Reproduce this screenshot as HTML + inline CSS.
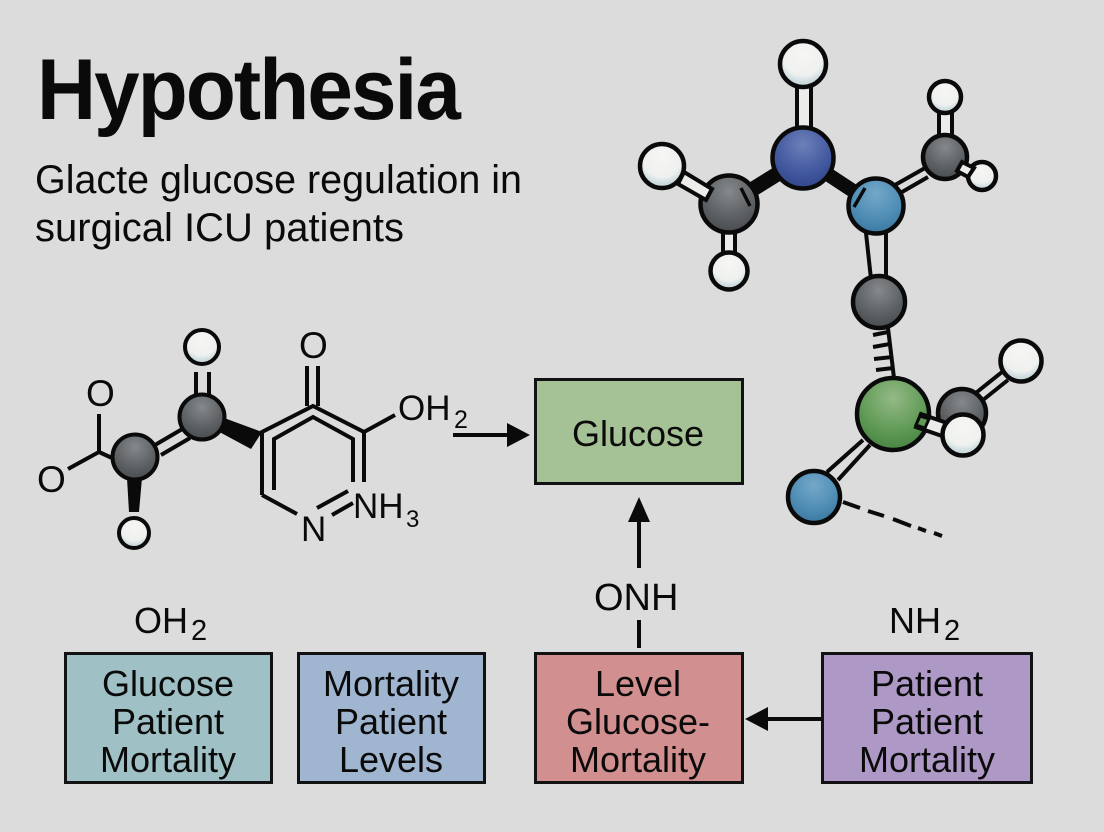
<!DOCTYPE html>
<html><head><meta charset="utf-8"><style>
html,body{margin:0;padding:0;background:#dcdcdc}
svg{display:block}
text{font-family:"Liberation Sans",sans-serif;fill:#0a0a0a}
.b{font-size:36px;text-anchor:middle}
</style></head><body>
<svg width="1104" height="832" viewBox="0 0 1104 832" xmlns="http://www.w3.org/2000/svg">
<defs>
<radialGradient id="h" cx=".5" cy=".3" r=".75"><stop offset="0" stop-color="#f6f6f3"/><stop offset=".6" stop-color="#eff1ef"/><stop offset=".78" stop-color="#cfdde0"/><stop offset="1" stop-color="#bccdd2"/></radialGradient>
<radialGradient id="c" cx=".5" cy=".28" r=".78"><stop offset="0" stop-color="#85898c"/><stop offset=".55" stop-color="#5f6366"/><stop offset="1" stop-color="#43464a"/></radialGradient>
<radialGradient id="n" cx=".5" cy=".28" r=".78"><stop offset="0" stop-color="#6c80b8"/><stop offset=".6" stop-color="#42589f"/><stop offset="1" stop-color="#2d4284"/></radialGradient>
<radialGradient id="a" cx=".5" cy=".28" r=".78"><stop offset="0" stop-color="#74a8c8"/><stop offset=".6" stop-color="#4e8cb4"/><stop offset="1" stop-color="#37739c"/></radialGradient>
<radialGradient id="g" cx=".5" cy=".28" r=".78"><stop offset="0" stop-color="#94b986"/><stop offset=".6" stop-color="#5f9a55"/><stop offset="1" stop-color="#437f3f"/></radialGradient>
</defs>
<rect width="1104" height="832" fill="#dcdcdc"/>

<!-- Title -->
<text x="37" y="119" font-size="86" font-weight="700" textLength="422" lengthAdjust="spacingAndGlyphs" letter-spacing="-2">Hypothesia</text>
<text x="35" y="193" font-size="40" textLength="487" lengthAdjust="spacingAndGlyphs">Glacte glucose regulation in</text>
<text x="35" y="241" font-size="40">surgical ICU patients</text>

<!-- Top-right molecule: bonds -->
<g stroke="#0a0a0a" fill="none">
<rect x="797" y="85" width="14" height="45" fill="#ececea" stroke-width="4"/>
<line x1="803" y1="158" x2="729" y2="204" stroke-width="15"/>
<line x1="803" y1="158" x2="876" y2="206" stroke-width="14"/>
<rect x="723" y="230" width="12" height="24" fill="#ececea" stroke-width="4"/>
<path d="M895 185L925 168M902 192L928 177" stroke-width="4"/>
<rect x="939" y="110" width="13" height="28" fill="#ececea" stroke-width="4"/>
<path d="M866 233L871 279M886 233L886 279" stroke-width="4"/>
<path d="M888 328L894 378" stroke-width="4"/>
<path d="M873 335L888 332M873 347L890 344M874 359L892 357M876 370L893 368" stroke-width="4"/>
<path d="M863 440L827 472M870 445L838 480" stroke-width="4"/>
<path d="M977 392L1002 372M983 400L1008 380" stroke-width="4"/>
</g>
<g stroke="#0a0a0a" stroke-width="4.5">
<circle cx="803" cy="64" r="23" fill="url(#h)"/>
<circle cx="803" cy="158" r="30.5" fill="url(#n)"/>
<circle cx="729" cy="204" r="28.5" fill="url(#c)"/>
<circle cx="662" cy="166" r="22" fill="url(#h)"/>
<circle cx="729" cy="271" r="18.5" fill="url(#h)"/>
<circle cx="876" cy="206" r="27.5" fill="url(#a)"/>
<circle cx="945" cy="157" r="22" fill="url(#c)"/>
<circle cx="945" cy="97" r="16" fill="url(#h)"/>
<circle cx="982" cy="176" r="14" fill="url(#h)"/>
<circle cx="879" cy="302" r="26" fill="url(#c)"/>
<circle cx="962" cy="413" r="24" fill="url(#c)"/>
<circle cx="1021" cy="361" r="20.5" fill="url(#h)"/>
<circle cx="893" cy="414" r="36" fill="url(#g)"/>
<circle cx="814" cy="497" r="26" fill="url(#a)"/>
</g>
<!-- overlays -->
<g stroke="#0a0a0a" stroke-width="4">
<polygon points="684,172 712,189 706,200 678,184" fill="#ececea"/>
<polygon points="962,162 974,168 968,177 957,171" fill="#ececea"/>
<polygon points="921,414 947,423 942,436 916,427" fill="#ececea"/>
<polygon points="920,416 929,419 925,428 916,425" fill="#5f9a55" stroke-width="3"/>
<circle cx="963" cy="435" r="20.5" fill="url(#h)" stroke-width="4.5"/>
<line x1="741" y1="188" x2="750" y2="206" stroke-width="3.5"/>
<line x1="865" y1="188" x2="854" y2="207" stroke-width="3.5"/>
</g>
<g stroke="#0a0a0a" stroke-width="4" fill="none">
<path d="M843 502L860 508M868 511L884 516M893 519L911 526M918 528L926 531M934 533L942 536"/>
</g>

<!-- Left molecule -->
<g stroke="#0a0a0a" stroke-width="4" fill="none">
<path d="M99 414V452L68 469M99 452L112 458"/>
<path d="M196 396V372M209 396V372" />
<path d="M155 445L184 428M161 455L190 438"/>
<path d="M262 495V432L313 406L364 432V482"/>
<path d="M274 490V439L313 417L353 439V482"/>
<path d="M262 495L297 514"/>
<path d="M307 406V366M318 406V366"/>
<path d="M364 432L395 415"/>
<path d="M317 508L348 491M332 515L353 503"/>
</g>
<polygon points="216,415 262,432 251,449 212,428" fill="#0a0a0a"/>
<polygon points="127,478 142,478 139,512 129,512" fill="#0a0a0a"/>
<g stroke="#0a0a0a" stroke-width="4">
<circle cx="135" cy="457" r="22.5" fill="url(#c)"/>
<circle cx="202" cy="417" r="22.5" fill="url(#c)"/>
<circle cx="202" cy="347" r="17" fill="url(#h)"/>
<circle cx="134" cy="533" r="15" fill="url(#h)"/>
</g>
<text x="86" y="406" font-size="37">O</text>
<text x="37" y="492" font-size="37">O</text>
<text x="299" y="358" font-size="37">O</text>
<text x="398" y="420" font-size="35">OH</text>
<text x="454" y="428" font-size="25">2</text>
<text x="353" y="518" font-size="35">NH</text>
<text x="406" y="527" font-size="24">3</text>
<text x="301" y="541" font-size="35">N</text>

<!-- Arrows -->
<g stroke="#0a0a0a" stroke-width="4" fill="none">
<path d="M453 435H510"/>
<path d="M639 568V520"/>
<path d="M639 620V648"/>
<path d="M822 719H765"/>
</g>
<polygon points="507,423 530,435 507,447" fill="#0a0a0a"/>
<polygon points="628,522 639,497 650,522" fill="#0a0a0a"/>
<polygon points="768,707 745,719 768,731" fill="#0a0a0a"/>

<!-- Boxes -->
<g stroke="#121212" stroke-width="3">
<rect x="535.5" y="379.5" width="207" height="104" fill="#a5c296"/>
<rect x="65.5" y="653.5" width="206" height="129" fill="#9fc1c5"/>
<rect x="298.5" y="653.5" width="186" height="129" fill="#9fb5d0"/>
<rect x="535.5" y="653.5" width="207" height="129" fill="#d18f8f"/>
<rect x="822.5" y="653.5" width="209" height="129" fill="#ad98c6"/>
</g>
<text class="b" x="638" y="446">Glucose</text>
<text class="b" x="168" y="696">Glucose</text>
<text class="b" x="168" y="734">Patient</text>
<text class="b" x="168" y="772">Mortality</text>
<text class="b" x="391" y="696">Mortality</text>
<text class="b" x="391" y="734">Patient</text>
<text class="b" x="391" y="772">Levels</text>
<text class="b" x="638" y="696">Level</text>
<text class="b" x="638" y="734">Glucose-</text>
<text class="b" x="638" y="772">Mortality</text>
<text class="b" x="927" y="696">Patient</text>
<text class="b" x="927" y="734">Patient</text>
<text class="b" x="927" y="772">Mortality</text>

<text x="134" y="633" font-size="36">OH</text>
<text x="191" y="640" font-size="29">2</text>
<text x="594" y="610" font-size="38">ONH</text>
<text x="889" y="633" font-size="36">NH</text>
<text x="944" y="640" font-size="29">2</text>
</svg>
</body></html>
